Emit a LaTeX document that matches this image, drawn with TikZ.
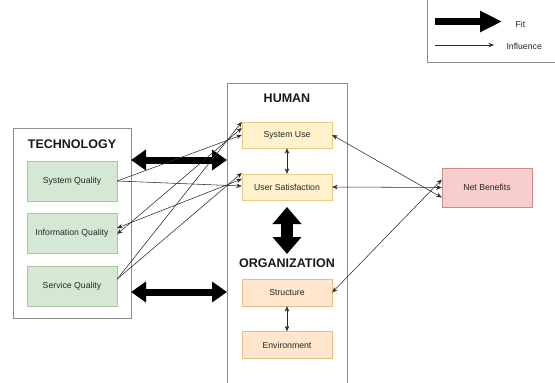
\documentclass[tikz,border=0pt]{standalone}
\usepackage{fontspec}
\setmainfont{Liberation Sans}
\usetikzlibrary{arrows.meta}
\definecolor{gfill}{HTML}{D5E8D4}\definecolor{gdraw}{HTML}{A8C79A}
\definecolor{yfill}{HTML}{FFF2CC}\definecolor{ydraw}{HTML}{E3CD8A}
\definecolor{ofill}{HTML}{FFE6CC}\definecolor{odraw}{HTML}{E6BD8A}
\definecolor{rfill}{HTML}{F8CECC}\definecolor{rdraw}{HTML}{C98A88}
\definecolor{frame}{HTML}{8C8C8C}
\definecolor{thin}{HTML}{2A2A2A}
\tikzset{
  every node/.style={font=\fontsize{8.7}{10}\selectfont, text=black!85},
  greenbox/.style={draw=gdraw, fill=gfill, minimum width=90pt, minimum height=40pt, inner sep=0pt},
  yellowbox/.style={draw=ydraw, fill=yfill, minimum width=90pt, minimum height=26pt, inner sep=0pt},
  orangebox/.style={draw=odraw, fill=ofill, minimum width=90pt, minimum height=27pt, inner sep=0pt},
  redbox/.style={draw=rdraw, fill=rfill, minimum width=90pt, minimum height=39pt, inner sep=0pt},
  groupbox/.style={draw=frame, line width=0.8pt},
  title/.style={font=\bfseries\fontsize{12.5}{14}\selectfont, text=black!90},
  infl/.style={draw=thin, line width=0.55pt, -{Stealth[length=5.5pt,width=4.5pt]}},
  inflboth/.style={draw=thin, line width=0.55pt, {Stealth[length=5.5pt,width=4.5pt]}-{Stealth[length=5.5pt,width=4.5pt]}},
  fitboth/.style={line width=7pt, {Triangle[length=15pt,width=20pt]}-{Triangle[length=15pt,width=20pt]}},
}
\begin{document}
\begin{tikzpicture}[x=1pt,y=-1pt]
\useasboundingbox (0,0) rectangle (555,383);
\clip (0,0) rectangle (555,383);
% legend
\draw[groupbox] (427,-5) -- (427,62) -- (560,62);
\coordinate (f1) at (435,21.5); \coordinate (f2) at (502,21.5);
\draw[line width=7pt, -{Triangle[length=22pt,width=20pt]}] (f1) -- (f2);
\node[anchor=west] (fit) at (512,24) {Fit};
\coordinate (i1) at (435,45); \coordinate (i2) at (494,45);
\draw[infl] (i1) -- (i2);
\node[anchor=west] (influence) at (503,46) {Influence};
% group boxes
\node[groupbox, minimum width=118pt, minimum height=190pt, anchor=north west, inner sep=0pt] (tech) at (13,128) {};
\node[title] (techt) at (72,144) {TECHNOLOGY};
\draw[groupbox] (227,400) -- (227,83) -- (347,83) -- (347,400);
\node[title] (humant) at (287,98) {HUMAN};
\node[title] (orgt) at (287,263) {ORGANIZATION};
% tech boxes
\node[greenbox] (sq) at (72,181) {System Quality};
\node[greenbox] (iq) at (72,233) {Information Quality};
\node[greenbox] (svq) at (72,286) {Service Quality};
% human boxes
\node[yellowbox] (su) at (287,135) {System Use};
\node[yellowbox] (us) at (287,187) {User Satisfaction};
\node[orangebox] (st) at (287,292.5) {Structure};
\node[orangebox] (env) at (287,345) {Environment};
% net benefits
\node[redbox] (nb) at (487,187.5) {Net Benefits};
% fit arrows
\coordinate (fa1) at (131,160); \coordinate (fa2) at (227,160);
\draw[fitboth] (fa1) -- (fa2);
\coordinate (fb1) at (131,292); \coordinate (fb2) at (227,292);
\draw[fitboth] (fb1) -- (fb2);
\coordinate (fv1) at (287,207); \coordinate (fv2) at (287,254);
\draw[line width=12pt, {Triangle[length=17pt,width=28pt]}-{Triangle[length=17pt,width=28pt]}] (fv1) -- (fv2);
% influence arrows from technology
\draw[infl] (sq.east) -- ([yshift=0pt]su.west);
\draw[infl] (sq.east) -- ([yshift=1pt]us.west);
\draw[inflboth] ([yshift=-1pt]iq.east) -- ([yshift=7pt]su.west);
\draw[inflboth] ([yshift=5pt]iq.east) -- ([yshift=8pt]us.west);
\draw[infl] ([yshift=7pt]svq.east) -- ([yshift=13pt]su.west);
\draw[infl] ([yshift=7pt]svq.east) -- ([yshift=14pt]us.west);
% within human/org
\draw[inflboth] (su.south) -- (us.north);
\draw[inflboth] (st.south) -- (env.north);
% net benefits
\draw[inflboth] (su.east) -- ([yshift=-10pt]nb.west);
\draw[inflboth] (us.east) -- (nb.west);
\draw[inflboth] (st.east) -- ([yshift=8pt]nb.west);
\end{tikzpicture}
\end{document}
